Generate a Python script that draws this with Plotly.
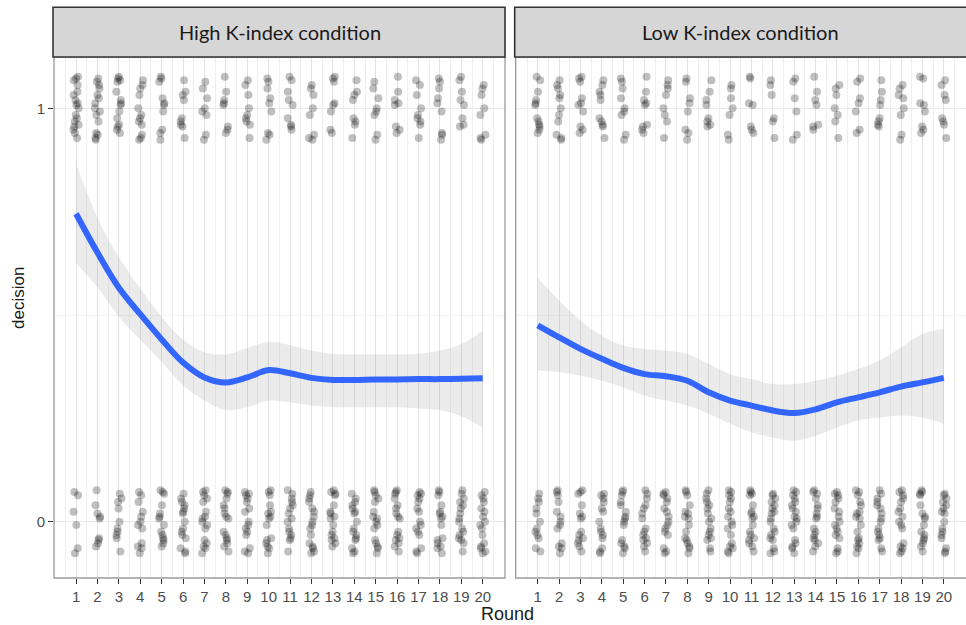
import plotly.graph_objects as go

# ---------------- data ----------------
rounds = list(range(1, 21))
conditions = ["High K-index condition", "Low K-index condition"]
n_participants = 24

# number of participants choosing decision = 1 in each round
high_ones = [18, 15, 14, 12, 10, 9, 8, 8, 9, 9, 9, 8, 8, 8, 8, 8, 9, 9, 8, 8]
low_ones = [12, 11, 10, 10, 9, 9, 8, 8, 8, 7, 7, 6, 6, 7, 7, 7, 8, 8, 8, 8]

# loess smooth and its confidence band
high_fit = [0.745, 0.651, 0.566, 0.502, 0.441, 0.385, 0.349, 0.337, 0.349, 0.367,
            0.359, 0.348, 0.343, 0.343, 0.344, 0.344, 0.345, 0.345, 0.346, 0.347]
high_hi = [0.867, 0.735, 0.640, 0.565, 0.495, 0.440, 0.410, 0.405, 0.420, 0.435,
           0.427, 0.414, 0.406, 0.405, 0.405, 0.405, 0.406, 0.414, 0.430, 0.462]
high_lo = [0.625, 0.567, 0.495, 0.440, 0.387, 0.330, 0.293, 0.270, 0.277, 0.293,
           0.289, 0.281, 0.277, 0.277, 0.277, 0.277, 0.274, 0.270, 0.255, 0.228]

low_fit = [0.475, 0.446, 0.418, 0.394, 0.372, 0.357, 0.352, 0.341, 0.313, 0.293,
           0.281, 0.269, 0.263, 0.272, 0.289, 0.301, 0.313, 0.327, 0.337, 0.348]
low_hi = [0.590, 0.535, 0.487, 0.450, 0.426, 0.418, 0.414, 0.406, 0.382, 0.357,
          0.345, 0.333, 0.333, 0.341, 0.353, 0.370, 0.390, 0.422, 0.454, 0.466]
low_lo = [0.366, 0.362, 0.353, 0.341, 0.325, 0.305, 0.293, 0.281, 0.261, 0.237,
          0.216, 0.204, 0.196, 0.208, 0.228, 0.245, 0.252, 0.257, 0.252, 0.237]

x_ticks = rounds
y_ticks = [0, 1]
y_ticktext = ["0", "1"]

# fixed jitter pattern (display offsets, fraction of jitter amplitude)
JX = [-0.8, 0.3, 0.9, -0.2, 0.5, -0.6, 0.1, 0.7, -0.9, -0.4, 0.6, 0.0,
      -0.7, 0.4, 0.8, -0.3, 0.2, -0.5, 0.95, -0.1, 0.55, -0.85, 0.35, -0.45]
JY = [0.7, -0.3, 0.1, 0.9, -0.8, 0.4, -0.5, 0.95, -0.1, 0.6, -0.9, 0.25,
      -0.65, 0.8, 0.0, -0.4, 0.5, -0.75, 0.3, -0.2, 0.85, -0.55, 0.15, -0.95]
JW = 0.13   # horizontal jitter amplitude (x units)
JH = 0.08   # vertical jitter amplitude (y units)

# ---------------- figure ----------------
W, H = 966, 625
fig = go.Figure()

def px_x(p):
    return p / W

def px_y(p):
    return 1 - p / H

panel_x = [(54, 505), (515.7, 968)]
panel_top, panel_bot = 57, 578
strip_top = 7.3

series = [
    (high_ones, high_fit, high_lo, high_hi),
    (low_ones, low_fit, low_lo, low_hi),
]

for c, (ones, fit, lo, hi) in enumerate(series):
    xa = "x" if c == 0 else "x2"
    ya = "y" if c == 0 else "y2"
    px_, py_ = [], []
    for ri, r in enumerate(rounds):
        counts = {1: ones[ri], 0: n_participants - ones[ri]}
        for v in (1, 0):
            for k in range(counts[v]):
                ix = (k + 5 * r + 13 * v + 7 * c) % 24
                iy = (5 * k + 3 * r + 11 * v + c) % 24
                px_.append(r + JW * JX[ix])
                py_.append(v + JH * JY[iy])
    fig.add_trace(go.Scatter(
        x=px_, y=py_, mode="markers", xaxis=xa, yaxis=ya,
        marker=dict(size=8, color="rgba(0,0,0,0.25)", line=dict(width=0)),
        showlegend=False, hoverinfo="skip"))
    fig.add_trace(go.Scatter(
        x=rounds, y=lo, mode="lines", xaxis=xa, yaxis=ya,
        line=dict(width=0, shape="spline", color="rgba(0,0,0,0)"),
        showlegend=False, hoverinfo="skip"))
    fig.add_trace(go.Scatter(
        x=rounds, y=hi, mode="lines", xaxis=xa, yaxis=ya, fill="tonexty",
        fillcolor="rgba(153,153,153,0.2)",
        line=dict(width=0, shape="spline", color="rgba(0,0,0,0)"),
        showlegend=False, hoverinfo="skip"))
    fig.add_trace(go.Scatter(
        x=rounds, y=fit, mode="lines", xaxis=xa, yaxis=ya,
        line=dict(width=6, shape="spline", color="#3366FF"),
        showlegend=False, hoverinfo="skip"))

tick_font = dict(family="Liberation Sans, Arial, sans-serif", size=15, color="#4D4D4D")
x_common = dict(
    range=[-0.03, 21.04], tickmode="array", tickvals=x_ticks,
    ticktext=[str(t) for t in x_ticks],
    ticks="outside", ticklen=5, tickwidth=1.3, tickcolor="#333333",
    tickfont=tick_font, showgrid=True, gridcolor="#E2E2E2", gridwidth=1.1,
    zeroline=False, showline=False,
    minor=dict(tickmode="array", tickvals=[t + 0.5 for t in range(0, 21)],
               showgrid=True, gridcolor="#EFEFEF", gridwidth=0.8, ticks=""),
)
y_common = dict(
    range=[-0.136, 1.124], tickmode="array", tickvals=y_ticks, ticktext=y_ticktext,
    showgrid=True, gridcolor="#E8E8E8", gridwidth=1.1, zeroline=False, showline=False,
    tickfont=tick_font,
    minor=dict(tickmode="array", tickvals=[0.5], showgrid=True,
               gridcolor="#F2F2F2", gridwidth=0.8, ticks=""),
)

fig.update_layout(
    width=W, height=H, margin=dict(l=0, r=0, t=0, b=0),
    paper_bgcolor="white", plot_bgcolor="white",
    xaxis=dict(domain=[px_x(panel_x[0][0]), px_x(panel_x[0][1])], anchor="y", **x_common),
    xaxis2=dict(domain=[px_x(panel_x[1][0]), 1.0], anchor="y2", **x_common),
    yaxis=dict(domain=[px_y(panel_bot), px_y(panel_top)], anchor="x",
               ticks="outside", ticklen=5, tickwidth=1.3, tickcolor="#333333", **y_common),
    yaxis2=dict(domain=[px_y(panel_bot), px_y(panel_top)], anchor="x2",
                showticklabels=False, ticks="", **y_common),
    showlegend=False,
)

shapes = []
for c, (x0, x1) in enumerate(panel_x):
    # panel border
    shapes.append(dict(type="rect", xref="paper", yref="paper",
                       x0=px_x(x0), x1=px_x(x1), y0=px_y(panel_bot), y1=px_y(panel_top),
                       line=dict(color="#9A9A9A", width=1.3), fillcolor="rgba(0,0,0,0)",
                       layer="above"))
    # strip
    shapes.append(dict(type="rect", xref="paper", yref="paper",
                       x0=px_x(x0 - 1), x1=px_x(x1), y0=px_y(panel_top), y1=px_y(strip_top),
                       line=dict(color="#333333", width=1.6), fillcolor="#D6D6D6",
                       layer="above"))
fig.update_layout(shapes=shapes)

annotations = []
for c, (x0, x1) in enumerate(panel_x):
    xc = (x0 + min(x1, 966)) / 2
    annotations.append(dict(
        text=conditions[c], xref="paper", yref="paper",
        x=px_x(xc), y=px_y((strip_top + panel_top) / 2),
        showarrow=False, xanchor="center", yanchor="middle",
        font=dict(family="Lato, Open Sans, sans-serif", size=20, color="#1A1A1A")))
annotations.append(dict(
    text="Round", xref="paper", yref="paper", x=px_x(508), y=px_y(614),
    showarrow=False, xanchor="center", yanchor="middle",
    font=dict(family="Liberation Sans, Arial, sans-serif", size=18, color="#1A1A1A")))
annotations.append(dict(
    text="decision", xref="paper", yref="paper", x=px_x(18), y=px_y(298),
    showarrow=False, xanchor="center", yanchor="middle", textangle=-90,
    font=dict(family="Liberation Sans, Arial, sans-serif", size=17, color="#1A1A1A")))
fig.update_layout(annotations=annotations)

fig.write_html(
    "out.html",
    config={"displayModeBar": False},
    post_script="document.body.style.margin='0';document.body.style.padding='0';"
                "document.documentElement.style.overflow='hidden';",
)
